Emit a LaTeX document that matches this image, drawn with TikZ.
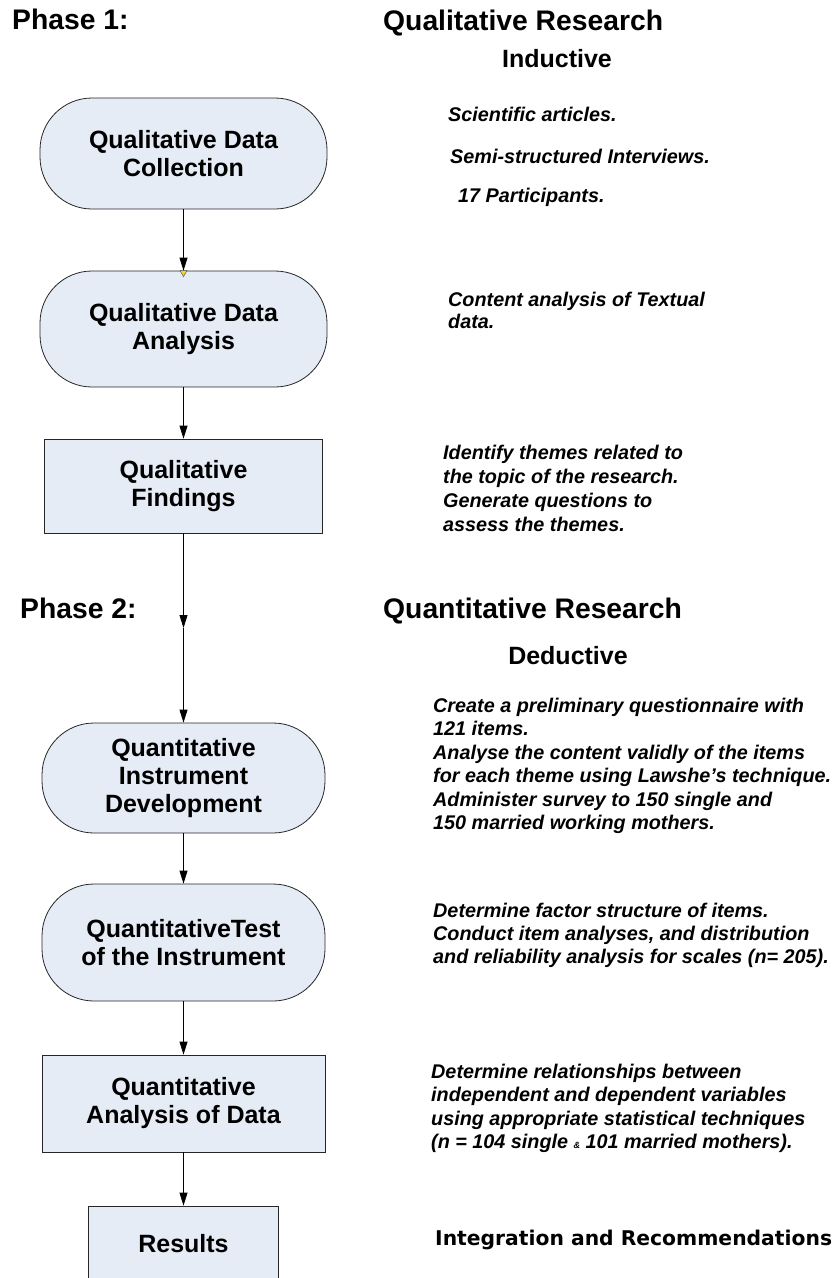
\documentclass[tikz,border=0pt]{standalone}
\usepackage{fontspec}
\setmainfont{Liberation Sans}
\newfontfamily\heavyfont{DejaVu Sans}
\usepackage{tikz}
\usetikzlibrary{positioning, arrows.meta}
\usepackage{xcolor}
\definecolor{boxfill}{RGB}{230,236,246}
\definecolor{markyellow}{RGB}{250,210,40}

\begin{document}
\begin{tikzpicture}[x=1pt,y=-1pt,
        stage/.style={draw=black!85,fill=boxfill,line width=0.8pt,rounded corners=52pt,align=center,inner sep=0pt,font=\fontsize{25}{28}\selectfont\bfseries},
        stagebox/.style={draw=black!85,fill=boxfill,line width=0.8pt,align=center,inner sep=0pt,font=\fontsize{25}{28}\selectfont\bfseries},
        phase/.style={anchor=base west,inner sep=0pt,font=\fontsize{28.3}{32}\selectfont\bfseries},
        mode/.style={anchor=base,inner sep=0pt,font=\fontsize{25}{28}\selectfont\bfseries},
        note/.style={anchor=base west,align=left,inner sep=0pt,font=\fontsize{19.8}{23.5}\selectfont\bfseries\itshape},
        flow/.style={line width=0.8pt,-{Triangle[length=13pt,width=8pt]}}]
        \clip (0,0) rectangle (836,1278);

        % phase 1
        \node (P1) at (12,29) [phase] {Phase 1:};
        \node (QlR) at (383,30) [phase] {Qualitative Research};
        \node (Ind) at (557,67) [mode] {Inductive};

        \node (QlDC) at (183.5,153.5) [stage,minimum width=287pt,minimum height=111pt] {Qualitative Data\\Collection};
        \node (QlDA) at (183.5,329) [stage,minimum width=287pt,minimum height=116pt] {Qualitative Data\\Analysis};
        \node (QlF) at (183.5,486) [stagebox,minimum width=278pt,minimum height=94pt] {Qualitative\\Findings};

        % notes: base is the last line
        \node (t1) at (448,121) [note] {Scientific articles.};
        \node (t2) at (450,163) [note] {Semi-structured Interviews.};
        \node (t3) at (458,202) [note] {17 Participants.};
        \node (t4) at (448,328) [note,font=\fontsize{19.8}{22}\selectfont\bfseries\itshape] {Content analysis of Textual\\data.};
        \node (t5) at (443,531) [note,font=\fontsize{19.8}{24}\selectfont\bfseries\itshape] {Identify themes related to\\the topic of the research.\\Generate questions to\\assess the themes.};

        % phase 2
        \node (P2) at (20,618) [phase] {Phase 2:};
        \node (QnR) at (383,618) [phase] {Quantitative Research};
        \node (Ded) at (568,664) [mode] {Deductive};

        \node (QnID) at (183.5,778) [stage,minimum width=283pt,minimum height=110pt] {Quantitative\\Instrument\\Development};
        \node (QnT) at (183.5,942.5) [stage,minimum width=283pt,minimum height=117pt] {QuantitativeTest\\of the Instrument};
        \node (QnA) at (183.5,1103.5) [stagebox,minimum width=283pt,minimum height=97pt] {Quantitative\\Analysis of Data};
        \node (Res) at (183.5,1244) [stagebox,minimum width=190pt,minimum height=76pt] {Results};

        \node (t6) at (433,829.5) [note] {Create a preliminary questionnaire with\\121 items.\\Analyse the content validly of the items\\for each theme using Lawshe’s technique.\\Administer survey to 150 single and\\150 married working mothers.};
        \node (t7) at (433,963) [note,font=\fontsize{19.8}{23}\selectfont\bfseries\itshape] {Determine factor structure of items.\\Conduct item analyses, and distribution\\and reliability analysis for scales (n= 205).};
        \node (t8) at (431,1148.5) [note] {Determine relationships between\\independent and dependent variables\\using appropriate statistical techniques\\(n = 104 single {\small\&} 101 married mothers).};
        \node (IR) at (435,1245) [anchor=base west,inner sep=0pt,font=\fontsize{20.3}{24}\selectfont\heavyfont\bfseries] {Integration and Recommendations};

        \coordinate (mid) at (183.5,628);
        \draw[flow] (QlDC) -- (QlDA);
        \draw[fill=markyellow,draw=black!70,line width=0.4pt] ([xshift=-3.5pt]QlDA.north) -- ([xshift=3.5pt]QlDA.north) -- ([yshift=-6pt]QlDA.north) -- cycle;
        \draw[flow] (QlDA) -- (QlF);
        \draw[flow] (QlF) -- (mid);
        \draw[flow] (mid) -- (QnID);
        \draw[flow] (QnID) -- (QnT);
        \draw[flow] (QnT) -- (QnA);
        \draw[flow] (QnA) -- (Res);
\end{tikzpicture}
\end{document}
